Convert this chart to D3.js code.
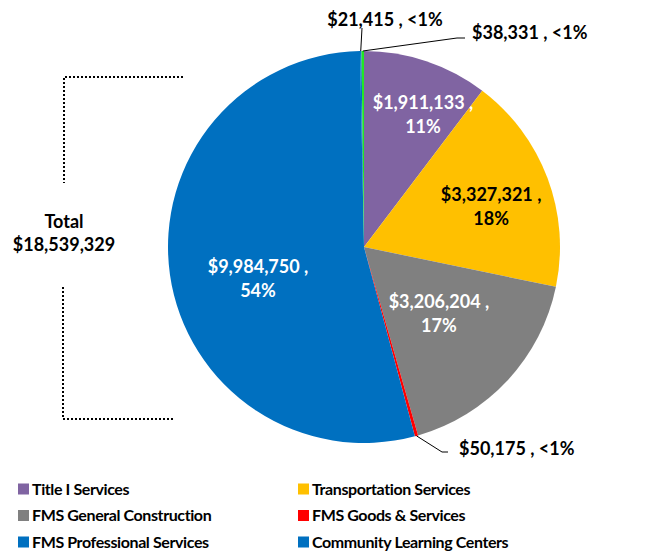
<!DOCTYPE html>
<html>
<head>
<meta charset="utf-8">
<style>
    body { margin: 0; background: #fff; }
    text { font-family: Lato, "Open Sans", sans-serif; font-weight: bold; }
    .bracket { fill: none; stroke: #000; stroke-width: 2; stroke-dasharray: 2 2; }
    .leader { fill: none; stroke: #000; stroke-width: 1; }
</style>
</head>
<body>
<script src="https://cdn.jsdelivr.net/npm/d3@7"></script>
<script>

// data
var categories = ["Title I Services", "Transportation Services", "FMS General Construction",
                  "FMS Goods & Services", "FMS Professional Services", "Community Learning Centers", ""];
var values = [1911133, 3327321, 3206204, 50175, 9984750, 21415, 38331];
var pctLabels = ["11%", "18%", "17%", "<1%", "54%", "<1%", "<1%"];
var colors = ["#8064A2", "#FFC000", "#808080", "#FF0000", "#0070C0", "#0070C0", "#22E822"];
var totalLabel = ["Total", "$18,539,329"];

var W = 646, H = 554;
var cx = 364, cy = 247, R = 196;

var svg = d3.select("body").append("svg")
        .attr("width", W)
        .attr("height", H);

var fmt = d3.format("$,");

var pie = d3.pie().sort(null).value(function(d) { return d; });
var arcs = pie(values);
var arc = d3.arc().innerRadius(0).outerRadius(R);

var g = svg.append("g").attr("transform", "translate(" + cx + "," + cy + ")");

g.selectAll("path.slice")
    .data(arcs)
    .enter().append("path")
    .attr("class", "slice")
    .attr("d", arc)
    .attr("fill", function(d, i) { return colors[i]; });

// inside labels: [slice index, radius factor, angle nudge (deg), colour]
var inside = [[0, 0.738, 5.5, "#fff"], [1, 0.68, 3.1, "#000"], [2, 0.513, -1, "#fff"], [4, 0.565, -8.7, "#fff"]];
inside.forEach(function(o) {
    var d = arcs[o[0]];
    var a = (d.startAngle + d.endAngle) / 2 + o[2] * Math.PI / 180;
    var r = R * o[1];
    var x = Math.sin(a) * r, y = -Math.cos(a) * r;
    var t = g.append("text")
        .attr("text-anchor", "middle")
        .attr("fill", o[3])
        .style("font-size", "18px");
    t.append("tspan").attr("x", x).attr("y", y - 12).attr("dy", "0.35em").text(fmt(values[o[0]]) + " ,");
    t.append("tspan").attr("x", x).attr("y", y + 12).attr("dy", "0.35em").text(pctLabels[o[0]]);
});

// outside labels with leader lines: [slice index, elbow dx, elbow dy, end dx, text dx, text dy, anchor]
var outside = [
    [5, -2, -219, -2, 21, -227, "middle"],
    [6, 93, -209, 101, 108, -214, "start"],
    [3, 78, 205, 84, 95, 202, "start"]
];
outside.forEach(function(o) {
    var d = arcs[o[0]];
    var a = (d.startAngle + d.endAngle) / 2;
    var x0 = Math.sin(a) * R, y0 = -Math.cos(a) * R;
    g.append("path")
        .attr("class", "leader")
        .attr("d", d3.line()([[x0, y0], [o[1], o[2]], [o[3], o[2]]]));
    g.append("text")
        .attr("x", o[4]).attr("y", o[5])
        .attr("dy", "0.35em")
        .attr("text-anchor", o[6])
        .attr("fill", "#000")
        .style("font-size", "18px")
        .text(fmt(values[o[0]]) + " , " + pctLabels[o[0]]);
});

// total bracket
svg.append("path").attr("class", "bracket")
    .attr("d", "M183,77H64V183");
svg.append("path").attr("class", "bracket")
    .attr("d", "M63,287V419H175");
svg.selectAll("text.total")
    .data(totalLabel)
    .enter().append("text")
    .attr("class", "total")
    .attr("x", 64)
    .attr("y", function(d, i) { return 222 + i * 23; })
    .attr("dy", "0.35em")
    .attr("text-anchor", "middle")
    .style("font-size", "18px")
    .text(function(d) { return d; });

// legend
var legendCats = categories.slice(0, 6);
var legend = svg.selectAll("g.legend")
    .data(legendCats)
    .enter().append("g")
    .attr("class", "legend")
    .attr("transform", function(d, i) {
        return "translate(" + (i % 2 ? 298 : 18) + "," + (489 + Math.floor(i / 2) * 26.5) + ")";
    });
legend.append("rect")
    .attr("x", 0).attr("y", -5.5)
    .attr("width", 11).attr("height", 11)
    .attr("fill", function(d, i) { return colors[i]; });
legend.append("text")
    .attr("x", 14)
    .attr("dy", "0.35em")
    .style("font-size", "16px")
    .style("letter-spacing", "-0.4px")
    .text(function(d) { return d; });

</script>
</body>
</html>
